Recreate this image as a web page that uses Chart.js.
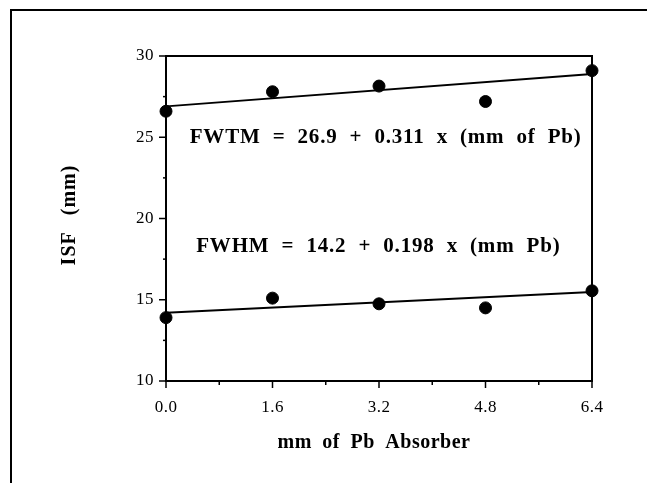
<!DOCTYPE html>
<html>
<head>
<meta charset="utf-8">
<script src="https://cdn.jsdelivr.net/npm/chart.js@4/dist/chart.umd.min.js"></script>
<style>
html,body{margin:0;padding:0;background:#fff;}
#wrap{position:relative;width:647px;height:483px;}
</style>
</head>
<body>
<div id="wrap"><canvas id="c" width="647" height="483"></canvas></div>
<script>
// ---- data ----
const absorberMM = [0.0, 1.6, 3.2, 4.8, 6.4];
const fwtmValues = [26.6, 27.8, 28.15, 27.2, 29.1];
const fwhmValues = [13.9, 15.1, 14.75, 14.5, 15.55];
const fitX = [0.0, 6.4];
const fwtmFit = [26.9, 28.89];
const fwhmFit = [14.2, 15.47];
const xTickLabels = ['0.0', '1.6', '3.2', '4.8', '6.4'];
const yTickLabels = ['10', '15', '20', '25', '30'];
const xTitle = 'mm of Pb Absorber';
const yTitle = 'ISF (mm)';
const fwtmLabel = 'FWTM  =  26.9  +  0.311  x  (mm  of  Pb)';
const fwhmLabel = 'FWHM  =  14.2  +  0.198  x  (mm  Pb)';
const labelPos = [{x: 3.3, y: 25.0, text: fwtmLabel}, {x: 3.19, y: 18.3, text: fwhmLabel}];

const pts = (xs, ys) => xs.map((x, i) => ({x: x, y: ys[i]}));
const SERIF = '"Liberation Serif", "Times New Roman", serif';

const decor = {
  id: 'decor',
  afterDraw(chart) {
    const ctx = chart.ctx;
    const a = chart.chartArea;
    const xs = chart.scales.x, ys = chart.scales.y;
    ctx.save();
    ctx.strokeStyle = '#000';
    // outer frame (top + left only)
    ctx.lineWidth = 2;
    ctx.beginPath();
    ctx.moveTo(11, 483); ctx.lineTo(11, 10); ctx.lineTo(647, 10);
    ctx.stroke();
    // plot box
    ctx.lineWidth = 2;
    ctx.strokeRect(a.left, a.top, a.right - a.left, a.bottom - a.top);
    // x ticks
    ctx.lineWidth = 1.5;
    for (let v = 0; v <= 6.41; v += 0.8) {
      const px = xs.getPixelForValue(v);
      const major = Math.abs(v / 1.6 - Math.round(v / 1.6)) < 1e-6;
      ctx.beginPath(); ctx.moveTo(px, a.bottom); ctx.lineTo(px, a.bottom + (major ? 7 : 4)); ctx.stroke();
    }
    // y ticks
    for (let v = 10; v <= 30.01; v += 2.5) {
      const py = ys.getPixelForValue(v);
      const major = Math.abs(v % 5) < 1e-6;
      ctx.beginPath(); ctx.moveTo(a.left, py); ctx.lineTo(a.left - (major ? 7 : 3), py); ctx.stroke();
    }
    // tick labels
    ctx.fillStyle = '#000';
    ctx.font = '17px ' + SERIF;
    ctx.letterSpacing = '0.5px';
    ctx.textAlign = 'center'; ctx.textBaseline = 'middle';
    xTickLabels.forEach(t => ctx.fillText(t, xs.getPixelForValue(parseFloat(t)), a.bottom + 27));
    ctx.textAlign = 'right';
    yTickLabels.forEach(t => ctx.fillText(t, a.left - 12, ys.getPixelForValue(parseFloat(t))));
    // titles
    ctx.font = 'bold 20px ' + SERIF;
    ctx.textAlign = 'center';
    ctx.letterSpacing = '0.5px';
    ctx.wordSpacing = '5px';
    ctx.fillText(xTitle, 374, 443);
    ctx.save();
    ctx.translate(70, 215); ctx.rotate(-Math.PI / 2);
    ctx.letterSpacing = '1px';
    ctx.wordSpacing = '10px';
    ctx.fillText(yTitle, 0, 0);
    ctx.restore();
    // equation labels
    ctx.font = 'bold 21px ' + SERIF;
    ctx.letterSpacing = '0.8px';
    ctx.wordSpacing = '0px';
    labelPos.forEach(l => ctx.fillText(l.text, xs.getPixelForValue(l.x), ys.getPixelForValue(l.y)));
    ctx.restore();
  }
};

new Chart(document.getElementById('c'), {
  type: 'scatter',
  data: {
    datasets: [
      {data: pts(fitX, fwtmFit), showLine: true, borderColor: '#000', borderWidth: 2, pointRadius: 0, order: 2, clip: false},
      {data: pts(fitX, fwhmFit), showLine: true, borderColor: '#000', borderWidth: 2, pointRadius: 0, order: 2, clip: false},
      {data: pts(absorberMM, fwtmValues), pointRadius: 6, backgroundColor: '#000', borderColor: '#000', order: 1, clip: false},
      {data: pts(absorberMM, fwhmValues), pointRadius: 6, backgroundColor: '#000', borderColor: '#000', order: 1, clip: false}
    ]
  },
  options: {
    responsive: false,
    animation: false,
    events: [],
    layout: {padding: {top: 56, right: 55, left: 0, bottom: 0}},
    plugins: {legend: {display: false}, tooltip: {enabled: false}},
    scales: {
      x: {
        type: 'linear', min: 0, max: 6.4,
        grid: {display: false, drawTicks: false},
        border: {display: false},
        ticks: {display: false, stepSize: 0.8},
        afterFit(s) { s.height = 102; }
      },
      y: {
        type: 'linear', min: 10, max: 30,
        grid: {display: false, drawTicks: false},
        border: {display: false},
        ticks: {display: false, stepSize: 5},
        afterFit(s) { s.width = 166; }
      }
    }
  },
  plugins: [decor]
});
</script>
</body>
</html>
